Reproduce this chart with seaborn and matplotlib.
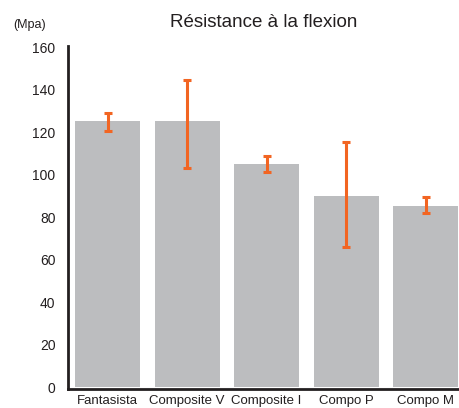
import matplotlib
matplotlib.use("Agg")
import matplotlib.pyplot as plt
import seaborn as sns
import numpy as np
import pandas as pd

categories = ["Fantasista", "Composite V", "Composite I", "Compo P", "Compo M"]
values = [125, 125, 105, 90, 85]
err_low = [120.3, 102.9, 101.0, 65.7, 81.7]
err_high = [129.0, 144.3, 108.9, 115.3, 89.4]
y_ticks = [0, 20, 40, 60, 80, 100, 120, 140, 160]

sns.set_style("white")
plt.rcParams["font.family"] = ["Liberation Sans", "DejaVu Sans"]

df = pd.DataFrame({"cat": categories, "val": values})

fig = plt.figure(figsize=(4.59, 4.08), dpi=100)
ax = fig.add_axes([68 / 459, 1 - 389 / 408, 1 - 68 / 459, (389 - 46) / 408])

sns.barplot(data=df, x="cat", y="val", color="#BCBDBF", saturation=1,
            width=0.818, errorbar=None, linewidth=0, ax=ax)

x = np.arange(len(categories))
v = np.array(values)
yerr = np.vstack([v - np.array(err_low), np.array(err_high) - v])
ax.errorbar(x, v, yerr=yerr, fmt="none", ecolor="#F26522",
            elinewidth=2.2, capsize=3, capthick=2.2, zorder=5)

ax.set_ylim(-0.94, 160.5)
ax.set_xlim(-0.497, 4.42)
ax.set_yticks(y_ticks)
ax.set_yticklabels([str(t) for t in y_ticks])
ax.set_xlabel("")
ax.set_ylabel("")
ax.tick_params(axis="both", length=0, colors="#231F20")
ax.tick_params(axis="y", pad=9, labelsize=10)
ax.tick_params(axis="x", pad=4, labelsize=9.5)

for side in ["top", "right"]:
    ax.spines[side].set_visible(False)
ax.spines["left"].set_color("#231F20")
ax.spines["left"].set_linewidth(2)
ax.spines["bottom"].set_color("#231F20")
ax.spines["bottom"].set_linewidth(2)

ax.set_title("Résistance à la flexion", fontsize=13.5, color="#231F20", pad=14)
fig.text(13 / 459, 1 - 25 / 408, "(Mpa)", fontsize=9, color="#231F20",
         ha="left", va="center")

fig.savefig("out.png", dpi=100)
